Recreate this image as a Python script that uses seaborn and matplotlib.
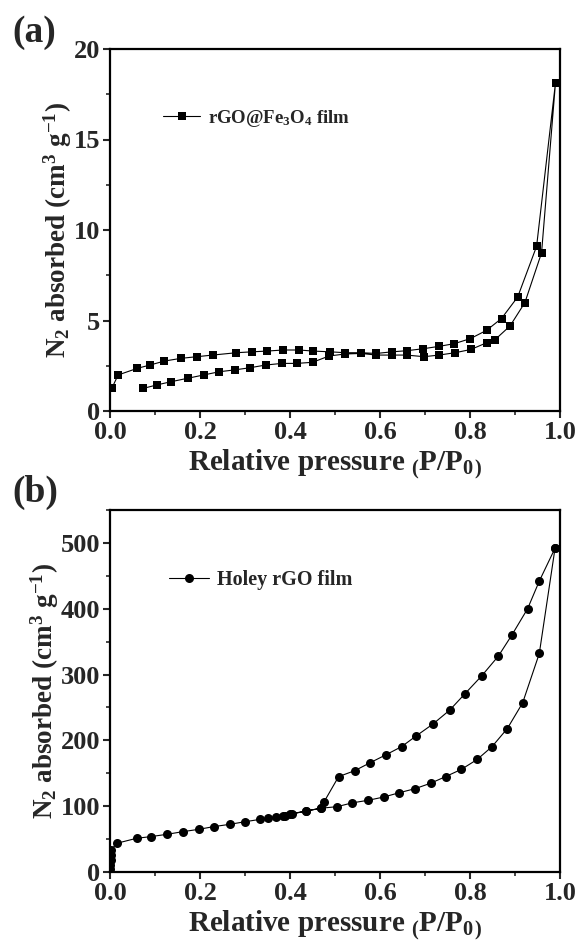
import numpy as np
import pandas as pd
import matplotlib
matplotlib.use("Agg")
import matplotlib.pyplot as plt
import seaborn as sns
from matplotlib.ticker import MultipleLocator

# ---- data: panel (a) rGO@Fe3O4 film ----
a_ads_x = [0.074, 0.104, 0.136, 0.173, 0.208, 0.243, 0.277, 0.311, 0.346, 0.382, 0.415, 0.450,
           0.487, 0.523, 0.558, 0.592, 0.627, 0.659, 0.698, 0.731, 0.767, 0.802, 0.837, 0.856,
           0.889, 0.922, 0.959, 0.990]
a_ads_y = [1.25, 1.44, 1.62, 1.81, 1.99, 2.17, 2.27, 2.39, 2.54, 2.63, 2.63, 2.69,
           3.04, 3.15, 3.18, 3.09, 3.09, 3.09, 3.00, 3.09, 3.22, 3.40, 3.77, 3.95,
           4.70, 5.99, 8.74, 18.14]
a_des_x = [0.990, 0.948, 0.906, 0.870, 0.837, 0.801, 0.765, 0.731, 0.696, 0.659, 0.627, 0.592,
           0.558, 0.523, 0.489, 0.452, 0.420, 0.385, 0.348, 0.316, 0.281, 0.228, 0.193, 0.158,
           0.121, 0.089, 0.061, 0.018, 0.004]
a_des_y = [18.14, 9.10, 6.30, 5.11, 4.46, 4.00, 3.72, 3.57, 3.44, 3.33, 3.27, 3.18,
           3.22, 3.22, 3.27, 3.31, 3.37, 3.37, 3.31, 3.27, 3.22, 3.09, 3.00, 2.91,
           2.76, 2.54, 2.36, 1.99, 1.25]

# ---- data: panel (b) Holey rGO film ----
b_ads_x = [0.0005, 0.001, 0.0015, 0.002, 0.003, 0.015, 0.059, 0.090, 0.127, 0.162, 0.197, 0.230,
           0.266, 0.300, 0.334, 0.352, 0.369, 0.388, 0.404, 0.436, 0.468, 0.505, 0.538,
           0.574, 0.609, 0.643, 0.678, 0.713, 0.746, 0.781, 0.816, 0.849, 0.883, 0.917,
           0.954, 0.989]
b_ads_y = [4, 11, 18, 26, 34, 43.6, 51.2, 53.7, 57.3, 61.3, 64.8, 68.9,
           72.4, 76.4, 80.0, 81.6, 84.0, 85.0, 88.0, 92.7, 96.8, 99.3, 105.0,
           109.0, 114.0, 120.5, 126.6, 135.0, 145.0, 156.0, 171.0, 190.5, 218.0, 257.0,
           332.0, 492.0]
b_des_x = [0.989, 0.954, 0.928, 0.893, 0.863, 0.826, 0.789, 0.755, 0.718, 0.681, 0.648, 0.613,
           0.578, 0.544, 0.508, 0.476, 0.468, 0.436, 0.400, 0.385]
b_des_y = [492.0, 442.0, 400.0, 360.0, 328.0, 298.0, 271.0, 246.0, 225.0, 207.0, 190.5, 178.0,
           166.0, 154.0, 144.9, 106.9, 96.8, 92.7, 88.1, 85.0]

x_ticks = [0.0, 0.2, 0.4, 0.6, 0.8, 1.0]
a_yticks = [0, 5, 10, 15, 20]
b_yticks = [0, 100, 200, 300, 400, 500]

sns.set_theme(style="ticks")
plt.rcParams['font.family'] = ['Liberation Serif', 'DejaVu Serif']
plt.rcParams['font.weight'] = 'bold'
plt.rcParams['mathtext.fontset'] = 'custom'
plt.rcParams['mathtext.rm'] = 'Liberation Serif:bold'
plt.rcParams['mathtext.it'] = 'Liberation Serif:bold'
plt.rcParams['mathtext.bf'] = 'Liberation Serif:bold'
plt.rcParams['mathtext.default'] = 'rm'

fig = plt.figure(figsize=(5.8, 9.43), dpi=100)
W, H = 580, 943
ax_a = fig.add_axes([110 / W, (H - 411) / H, 450 / W, 362 / H])
ax_b = fig.add_axes([110 / W, (H - 872) / H, 450 / W, 362 / H])

df_a = pd.DataFrame({"x": a_ads_x + a_des_x, "y": a_ads_y + a_des_y})
df_b = pd.DataFrame({"x": b_ads_x + b_des_x, "y": b_ads_y + b_des_y})

sns.lineplot(data=df_a, x="x", y="y", sort=False, estimator=None, ax=ax_a,
             color="black", lw=0.8, marker="s", markersize=6, markeredgewidth=0,
             label=r"rGO@Fe$_3$O$_4$ film")
sns.lineplot(data=df_b, x="x", y="y", sort=False, estimator=None, ax=ax_b,
             color="black", lw=0.8, marker="o", markersize=6.5, markeredgewidth=0,
             label="Holey rGO film")

for ax, yt, ylim, minor in [(ax_a, a_yticks, (0, 20), 2.5), (ax_b, b_yticks, (0, 550), 50)]:
    ax.set_xlim(0, 1.0)
    ax.set_ylim(*ylim)
    ax.set_xticks(x_ticks)
    ax.set_xticklabels([f"{v:.1f}" for v in x_ticks])
    ax.set_yticks(yt)
    ax.set_yticklabels([str(v) for v in yt])
    ax.xaxis.set_minor_locator(MultipleLocator(0.1))
    ax.yaxis.set_minor_locator(MultipleLocator(minor))
    ax.tick_params(which='major', direction='out', length=5, width=1.5, labelsize=19, pad=2)
    ax.tick_params(which='minor', direction='out', length=3, width=1.2)
    for lab in ax.get_xticklabels() + ax.get_yticklabels():
        lab.set_fontweight('bold')
    for s in ax.spines.values():
        s.set_linewidth(1.6)
        s.set_color('black')
    ax.set_xlabel(r"Relative pressure $_($P/P$_0$$_)$", fontsize=21, fontweight='bold', labelpad=3)
    ax.set_ylabel(r"N$_2$ absorbed (cm$^3$ g$^{-1}$)", fontsize=19.5, fontweight='bold', labelpad=0)
    ax.grid(False)

ax_a.legend(loc='upper left', bbox_to_anchor=(0.08, 0.885), frameon=False,
            prop={'size': 13.5, 'weight': 'bold'}, handlelength=2.0, handletextpad=0.4)
ax_b.legend(loc='upper left', bbox_to_anchor=(0.09, 0.885), frameon=False,
            prop={'size': 14.5, 'weight': 'bold'}, handlelength=2.0, handletextpad=0.4)

fig.text(12 / W, 1 - 32 / H, "(a)", fontsize=27, fontweight='bold', va='center', ha='left')
fig.text(12 / W, 1 - 492 / H, "(b)", fontsize=27, fontweight='bold', va='center', ha='left')

fig.savefig("out.png", dpi=100)
